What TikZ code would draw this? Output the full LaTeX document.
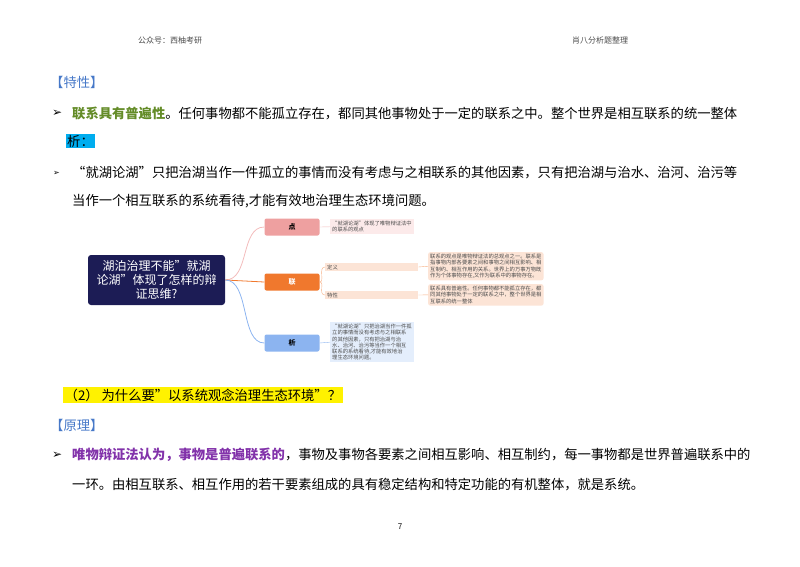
\documentclass[tikz,border=0pt]{standalone}
\usepackage{fontspec}
\setmainfont{Noto Sans CJK SC}
\newfontfamily\symf{DejaVu Sans}
\definecolor{hdblue}{RGB}{70,120,200}
\definecolor{grn}{RGB}{100,140,40}
\definecolor{purp}{RGB}{130,50,170}
\definecolor{navy}{RGB}{28,28,85}
\definecolor{cpink}{RGB}{238,160,160}
\definecolor{corange}{RGB}{240,120,45}
\definecolor{cblue}{RGB}{140,180,240}
\definecolor{lpink}{RGB}{252,234,234}
\definecolor{lor}{RGB}{252,228,214}
\definecolor{lblue}{RGB}{228,238,252}
\begin{document}
\begin{tikzpicture}[x=1pt,y=-1pt,
  body/.style={anchor=west,inner sep=0,font=\fontsize{13.3}{16}\selectfont},
  hdr/.style={inner sep=0,font=\fontsize{8}{10}\selectfont,text=black!70},
  tiny/.style={anchor=north west,inner sep=2pt,font=\fontsize{5.3}{6.2}\selectfont,text=black!70,align=left},
  br/.style={rounded corners=2pt,minimum width=55pt,minimum height=17pt,inner sep=0,font=\fontsize{7}{8}\selectfont\bfseries}]
\useasboundingbox (0,0) rectangle (800,566);
\node[hdr] (h1) at (170,40) {公众号：西柚考研};
\node[hdr] (h2) at (600,40) {肖八分析题整理};
\node[body,text=hdblue] (t1) at (50,82) {【特性】};
\node[body,font=\symf\fontsize{12}{14}\selectfont] (b1) at (52,113) {➢};
\node[body] (l1) at (72,113) {\textcolor{grn}{\bfseries 联系具有普遍性}。任何事物都不能孤立存在，都同其他事物处于一定的联系之中。整个世界是相互联系的统一整体};
\node[body,fill=cyan,inner sep=1pt] (x1) at (66,141) {析：};
\node[body,font=\symf\fontsize{8}{10}\selectfont] (b2) at (53,173) {➢};
\node[body] (l2) at (72,173) {“就湖论湖”只把治湖当作一件孤立的事情而没有考虑与之相联系的其他因素，只有把治湖与治水、治河、治污等};
\node[body] (l3) at (72,201) {当作一个相互联系的系统看待,才能有效地治理生态环境问题。};
% mindmap
\node[fill=navy,rounded corners=3pt,minimum width=137pt,minimum height=50pt,text=white,align=center,font=\fontsize{12}{14}\selectfont] (c) at (156.5,280) {湖泊治理不能"就湖\\论湖"体现了怎样的辩\\证思维?};
\node[br,fill=cpink] (p) at (292,227) {点};
\node[br,fill=corange,text=white] (q) at (292,282) {联};
\node[br,fill=cblue] (r) at (292,343) {析};
\draw[cpink!70,thick] (c.east) .. controls (250,280) and (240,227) .. (p.west);
\draw[corange,thick] (c.east) -- (q.west);
\draw[cblue,thick] (c.east) .. controls (250,280) and (240,343) .. (r.west);
\node[tiny,fill=lpink] (pl) at (330,219) {“就湖论湖”体现了唯物辩证法中\\的联系的观点};
\node[tiny,fill=lor,text width=89pt,anchor=west] (d) at (325,267) {定义};
\node[tiny,fill=lor,text width=89pt,anchor=west] (e) at (325,295) {特性};
\node[tiny,fill=lor,rounded corners=2pt] (dl) at (428,252) {联系的观点是唯物辩证法的总观点之一。联系是\\指事物内部各要素之间和事物之间相互影响、相\\互制约、相互作用的关系。世界上的万事万物既\\作为个体事物存在,又作为联系中的事物存在。};
\node[tiny,fill=lor,rounded corners=2pt] (el) at (428,284) {联系具有普遍性。任何事物都不能孤立存在，都\\同其他事物处于一定的联系之中，整个世界是相\\互联系的统一整体};
\node[tiny,fill=lblue] (rl) at (330,322) {“就湖论湖”只把治湖当作一件孤\\立的事情而没有考虑与之相联系\\的其他因素，只有把治湖与治\\水、治河、治污等当作一个相互\\联系的系统看待,才能有效地治\\理生态环境问题。};
\draw[cpink!70] (p.east) -- (pl.west);
\draw[corange!60] (q.east) .. controls (325,282) and (318,267) .. (d.west);
\draw[corange!60] (q.east) .. controls (325,282) and (318,295) .. (e.west);
\draw[corange!60] (d.east) -- (dl.west);
\draw[corange!60] (e.east) -- (el.west);
\draw[cblue] (r.east) -- (rl.west);
% part 2
\node[body,fill=yellow,inner sep=1.5pt] (q2) at (63,395) {（2）\ 为什么要"以系统观念治理生态环境"？};
\node[body,text=hdblue] (t2) at (50,425) {【原理】};
\node[body,font=\symf\fontsize{12}{14}\selectfont] (b3) at (52,455) {➢};
\node[body] (l4) at (72,455) {\textcolor{purp}{\bfseries 唯物辩证法认为，事物是普遍联系的}，事物及事物各要素之间相互影响、相互制约，每一事物都是世界普遍联系中的};
\node[body] (l5) at (72,485) {一环。由相互联系、相互作用的若干要素组成的具有稳定结构和特定功能的有机整体，就是系统。};
\node[hdr,text=black] (pg) at (400,527) {7};
\end{tikzpicture}
\end{document}
